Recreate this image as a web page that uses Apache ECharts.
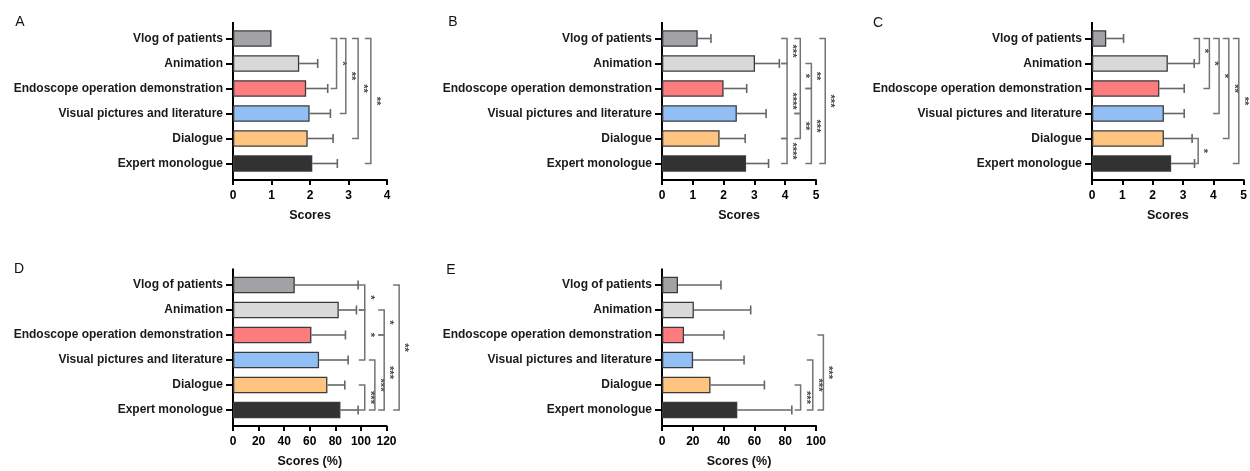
<!DOCTYPE html>
<html><head><meta charset="utf-8">
<script src="https://cdn.jsdelivr.net/npm/echarts@6/dist/echarts.min.js"></script>
<style>html,body{margin:0;padding:0;background:#fff}#c{width:1250px;height:471px}</style>
</head><body><div id="c"></div>
<script>
// ---------------- data ----------------
const categories = ['Vlog of patients', 'Animation', 'Endoscope operation demonstration',
  'Visual pictures and literature', 'Dialogue', 'Expert monologue'];
const panelLetters = ['A', 'B', 'C', 'D', 'E'];
const xTitles = ['Scores', 'Scores', 'Scores', 'Scores (%)', 'Scores (%)'];

const meanA = [1.00, 1.72, 1.90, 1.99, 1.94, 2.06];
const sdA   = [0.00, 0.48, 0.56, 0.54, 0.66, 0.65];
const meanB = [1.16, 3.02, 2.00, 2.43, 1.87, 2.73];
const sdB   = [0.43, 0.79, 0.75, 0.95, 0.83, 0.73];
const meanC = [0.47, 2.50, 2.22, 2.37, 2.37, 2.61];
const sdC   = [0.57, 0.87, 0.82, 0.67, 0.93, 0.77];
const meanD = [48.3, 82.7, 61.3, 67.3, 73.8, 84.0];
const sdD   = [49.5, 13.8, 26.6, 22.7, 13.6, 13.8];
const meanE = [10.4, 20.7, 14.3, 20.2, 31.5, 48.9];
const sdE   = [27.9, 36.9, 25.9, 33.1, 35.0, 35.4];

const ticksA = [0, 1, 2, 3, 4];
const ticksB = [0, 1, 2, 3, 4, 5];
const ticksC = [0, 1, 2, 3, 4, 5];
const ticksD = [0, 20, 40, 60, 80, 100, 120];
const ticksE = [0, 20, 40, 60, 80, 100];

// significance: [from category, to category, label]
const sigA = [[0, 2, '*'], [0, 3, '**'], [0, 4, '**'], [0, 5, '**']];
const sigB = [[0, 1, '***'], [1, 4, '****'], [4, 5, '****'], [0, 3, '*'], [3, 4, '**'],
  [1, 2, '**'], [2, 5, '***'], [0, 5, '***']];
const sigC = [[0, 1, '*'], [4, 5, '*'], [0, 2, '*'], [0, 3, '*'], [0, 4, '**'], [0, 5, '**']];
const sigD = [[0, 1, '*'], [1, 3, '*'], [4, 5, '***'], [3, 5, '***'], [1, 2, '*'], [2, 5, '***'], [0, 5, '**']];
const sigE = [[4, 5, '***'], [3, 5, '***'], [2, 5, '***']];

// ---------------- layout / style ----------------
const barColors = ['#a2a2a7', '#d9d9d9', '#fc7c7f', '#90bef5', '#ffc480', '#323232'];
const FONT = '"Liberation Sans", Arial, sans-serif';
const ROW_TOP = [26, 272.5];
const AXIS_OFF = [4, 3.5];
const PLOT_H = 150;
const layout = [
  { left: 233, width: 154, row: 0, letter: [20, 22], bx: [2.69, 2.93, 3.25, 3.58] },
  { left: 662, width: 154, row: 0, letter: [453, 22], bx: [4.06, 4.06, 4.06, 4.49, 4.49, 4.85, 4.85, 5.30] },
  { left: 1092, width: 154.5, row: 0, letter: [878, 23], bx: [3.54, 3.50, 3.87, 4.19, 4.51, 4.84] },
  { left: 233, width: 153.5, row: 1, letter: [19, 269], bx: [103, 103, 103, 110.9, 118.2, 118.2, 129.9] },
  { left: 662, width: 154, row: 1, letter: [451, 270], bx: [90, 97.9, 104.8] }
];
const panels = [
  [meanA, sdA, ticksA, sigA], [meanB, sdB, ticksB, sigB], [meanC, sdC, ticksC, sigC],
  [meanD, sdD, ticksD, sigD], [meanE, sdE, ticksE, sigE]
];

const grid = [], xAxis = [], yAxis = [], series = [], graphic = [];

panels.forEach(([mean, sd, ticks, sig], i) => {
  const L = layout[i];
  const top = ROW_TOP[L.row];
  grid.push({ left: L.left, top: top, width: L.width, height: PLOT_H });
  xAxis.push({
    type: 'value', gridIndex: i, min: ticks[0], max: ticks[ticks.length - 1],
    interval: ticks[1] - ticks[0], offset: AXIS_OFF[L.row],
    splitLine: { show: false },
    axisLine: { show: true, lineStyle: { color: '#000', width: 2 } },
    axisTick: { show: true, length: 5, lineStyle: { color: '#000', width: 2 } },
    axisLabel: { margin: 10, color: '#000', fontSize: 12, fontWeight: 'bold', fontFamily: FONT },
    name: xTitles[i], nameLocation: 'middle', nameGap: 29,
    nameTextStyle: { color: '#111', fontSize: 12.5, fontWeight: 'bold', fontFamily: FONT }
  });
  yAxis.push({
    type: 'category', gridIndex: i, data: categories, inverse: true,
    axisLine: { show: false },
    axisTick: { show: true, alignWithLabel: true, length: 7, lineStyle: { color: '#000', width: 2 } },
    axisLabel: { margin: 10, color: '#1a1a1a', fontSize: 12, fontWeight: 'bold', fontFamily: FONT }
  });
  graphic.push({
    type: 'line', silent: true,
    shape: { x1: L.left, y1: top - 4, x2: L.left, y2: top + PLOT_H + AXIS_OFF[L.row] + 1 },
    style: { stroke: '#000', lineWidth: 2 }
  });
  graphic.push({
    type: 'text', silent: true, x: L.letter[0], y: L.letter[1],
    style: { text: panelLetters[i], fontSize: 14, fontFamily: FONT, fill: '#111', align: 'center', verticalAlign: 'middle' }
  });

  series.push({
    type: 'bar', xAxisIndex: i, yAxisIndex: i, barWidth: 16.5, silent: true,
    data: mean.map((v, j) => ({ value: v, itemStyle: { color: barColors[j] } })),
    itemStyle: { borderColor: '#3a3a3a', borderWidth: 1.3 }
  });
  series.push({
    type: 'custom', xAxisIndex: i, yAxisIndex: i, silent: true, clip: false, z: 3,
    data: mean.map((v, j) => [v, j, v + sd[j]]),
    encode: { x: 0, y: 1 },
    renderItem: (params, api) => {
      const a = api.coord([api.value(0), api.value(1)]);
      const b = api.coord([api.value(2), api.value(1)]);
      if (b[0] - a[0] < 1) return { type: 'group', children: [] };
      const st = { stroke: '#666', lineWidth: 1.6 };
      return { type: 'group', children: [
        { type: 'line', shape: { x1: a[0], y1: a[1], x2: b[0], y2: b[1] }, style: st },
        { type: 'line', shape: { x1: b[0], y1: b[1] - 4.5, x2: b[0], y2: b[1] + 4.5 }, style: st }
      ] };
    }
  });
  series.push({
    type: 'custom', xAxisIndex: i, yAxisIndex: i, silent: true, clip: false, z: 3,
    data: sig.map((s, k) => [L.bx[k], s[0]]),
    encode: { x: 0, y: 1 },
    renderItem: (params, api) => {
      const s = sig[params.dataIndex];
      const x = L.bx[params.dataIndex];
      const p1 = api.coord([x, s[0]]);
      const p2 = api.coord([x, s[1]]);
      const arm = 6;
      return { type: 'group', children: [
        { type: 'polyline', shape: { points: [[p1[0] - arm, p1[1]], [p1[0], p1[1]], [p2[0], p2[1]], [p2[0] - arm, p2[1]]] },
          style: { stroke: '#747474', lineWidth: 1.5, fill: null } },
        { type: 'text', x: p1[0] + 5, y: (p1[1] + p2[1]) / 2, rotation: -Math.PI / 2,
          style: { text: s[2], fontSize: 11, fontWeight: 'bold', fontFamily: FONT, fill: '#4a4a4a', align: 'center', verticalAlign: 'middle' } }
      ] };
    }
  });
});

const chart = echarts.init(document.getElementById('c'), null, { renderer: 'canvas' });
chart.setOption({ animation: false, backgroundColor: '#fff', grid, xAxis, yAxis, series, graphic });
</script>
</body></html>
